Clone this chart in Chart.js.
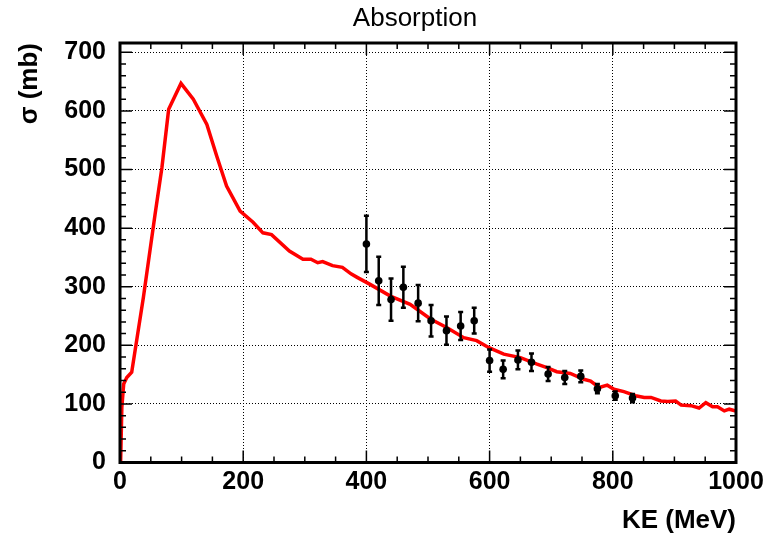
<!DOCTYPE html>
<html>
<head>
<meta charset="utf-8">
<script src="https://cdn.jsdelivr.net/npm/chart.js@4/dist/chart.umd.min.js"></script>
<style>
  html, body { margin: 0; padding: 0; background: #fff; }
</style>
</head>
<body>
<canvas id="chart" width="773" height="538"></canvas>
<script>
// model curve (red line)
const curveKE = [1, 3, 6, 11, 19, 38, 57, 68, 79, 99, 119, 141, 157, 173, 195, 216, 232, 246, 275, 297,
    310, 321, 329, 345, 361, 375, 385, 406, 439, 471, 504, 531, 558, 579, 599, 623, 650, 677, 693, 709,
    731, 753, 764, 778, 791, 802, 818, 837, 851, 862, 878, 889, 902, 911, 927, 940, 951, 962, 970, 981,
    989, 1000];
const curveSigma = [0, 94, 134, 145, 154, 282, 424, 503, 603, 647, 620, 577, 523, 472, 429, 410, 392, 389, 361, 347,
    347, 341, 343, 336, 333, 322, 316, 304, 284, 270, 245, 230, 213, 208, 196, 185, 179, 168, 162, 155,
    152, 142, 139, 128, 132, 125, 121, 114, 111, 111, 105, 104, 105, 98, 97, 93, 102, 95, 95, 88,
    91, 88];

// measured points with errors
const dataKE = [400, 420, 440, 460, 484, 505, 530, 553, 575, 600, 622, 646, 668, 695, 722, 748, 775, 804, 832];
const dataSigma = [373, 310, 278, 299, 272, 242, 225, 233, 242, 174, 159, 175, 171, 151, 145, 147, 126, 114, 110];
const dataErr = [48, 41, 36, 35, 31, 27, 24, 24, 22, 19, 15, 16, 15, 12, 11, 10, 8, 7, 7];

const xRange = [0, 1000];
const yRange = [0, 716];
const xStep = 200, yStep = 100;
const xMinorDiv = 4, yMinorDiv = 5;

const FONT = "'Liberation Sans', Arial, Helvetica, sans-serif";

const errorBars = {
    id: "errorBars",
    beforeDatasetDraw(chart, args) {
        if (args.index !== 1) return;
        const { ctx, scales: { x, y } } = chart;
        ctx.save();
        ctx.strokeStyle = "#000";
        ctx.lineWidth = 2.5;
        dataKE.forEach((ke, i) => {
            const px = x.getPixelForValue(ke);
            const top = y.getPixelForValue(dataSigma[i] + dataErr[i]);
            const bot = y.getPixelForValue(dataSigma[i] - dataErr[i]);
            ctx.beginPath();
            ctx.moveTo(px, top);
            ctx.lineTo(px, bot);
            ctx.moveTo(px - 2.5, top);
            ctx.lineTo(px + 2.5, top);
            ctx.moveTo(px - 2.5, bot);
            ctx.lineTo(px + 2.5, bot);
            ctx.stroke();
        });
        ctx.restore();
    }
};

// ROOT style frame with inner ticks on all sides, plus the title
const frame = {
    id: "frame",
    afterDraw(chart) {
        const { ctx, chartArea: a, scales: { x, y } } = chart;
        ctx.save();
        ctx.strokeStyle = "#000";
        ctx.lineWidth = 1.5;
        ctx.beginPath();
        const minorX = xStep / xMinorDiv, minorY = yStep / yMinorDiv;
        for (let v = xRange[0]; v <= xRange[1] + 1e-6; v += minorX) {
            const px = x.getPixelForValue(v);
            const len = Math.abs(v % xStep) < 1e-6 ? 12 : 6;
            ctx.moveTo(px, a.bottom); ctx.lineTo(px, a.bottom - len);
            ctx.moveTo(px, a.top); ctx.lineTo(px, a.top + len);
        }
        for (let v = yRange[0]; v <= yRange[1] + 1e-6; v += minorY) {
            const py = y.getPixelForValue(v);
            const len = Math.abs(v % yStep) < 1e-6 ? 12 : 6;
            ctx.moveTo(a.left, py); ctx.lineTo(a.left + len, py);
            ctx.moveTo(a.right, py); ctx.lineTo(a.right - len, py);
        }
        ctx.stroke();
        ctx.lineWidth = 3;
        ctx.strokeRect(a.left, a.top, a.right - a.left, a.bottom - a.top);

        ctx.fillStyle = "#000";
        ctx.font = "26px " + FONT;
        ctx.textAlign = "center";
        ctx.textBaseline = "alphabetic";
        ctx.fillText("Absorption", 415, 26);
        ctx.restore();
    }
};

const tickFont = { family: FONT, size: 25, weight: "bold" };
const titleFont = { family: FONT, size: 26, weight: "bold" };
const plainNumber = v => String(v);

new Chart(document.getElementById("chart"), {
    type: "scatter",
    data: {
        datasets: [
            {
                label: "model",
                data: curveKE.map((ke, i) => ({ x: ke, y: curveSigma[i] })),
                showLine: true,
                borderColor: "#ff0000",
                borderWidth: 3.5,
                pointRadius: 0,
                tension: 0,
                order: 2
            },
            {
                label: "data",
                data: dataKE.map((ke, i) => ({ x: ke, y: dataSigma[i] })),
                backgroundColor: "#000",
                borderColor: "#000",
                borderWidth: 0,
                pointRadius: 3.8,
                order: 1
            }
        ]
    },
    options: {
        responsive: false,
        animation: false,
        layout: { padding: { left: 0, top: 43, right: 37, bottom: 0 } },
        plugins: {
            legend: { display: false },
            tooltip: { enabled: false },
            title: { display: false }
        },
        scales: {
            x: {
                type: "linear",
                min: xRange[0],
                max: xRange[1],
                ticks: { stepSize: xStep, font: tickFont, color: "#000", padding: 5, maxRotation: 0, callback: plainNumber },
                grid: { color: "#000", lineWidth: 1, drawTicks: false },
                border: { display: false, dash: [1, 2] },
                title: { display: true, text: "KE (MeV)", align: "end", color: "#000", font: titleFont, padding: { top: 0, bottom: 2 } },
                afterFit(scale) { scale.height = 75.5; }
            },
            y: {
                type: "linear",
                min: yRange[0],
                max: yRange[1],
                ticks: { stepSize: yStep, includeBounds: false, font: tickFont, color: "#000", padding: 14, callback: plainNumber },
                grid: { color: "#000", lineWidth: 1, drawTicks: false },
                border: { display: false, dash: [1, 2] },
                title: { display: true, text: "σ (mb)", align: "end", color: "#000", font: titleFont, padding: { top: 14, bottom: 0 } },
                afterFit(scale) { scale.width = 120; }
            }
        }
    },
    plugins: [errorBars, frame]
});
</script>
</body>
</html>
